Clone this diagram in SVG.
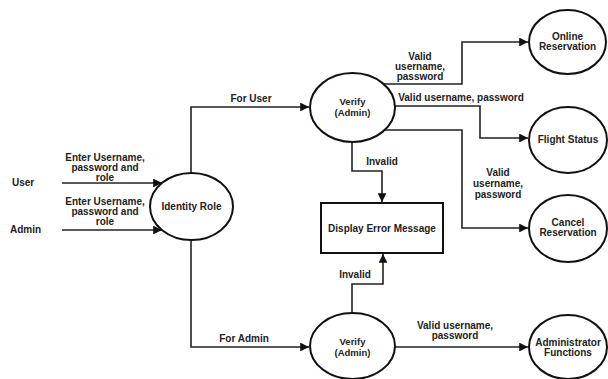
<svg xmlns="http://www.w3.org/2000/svg" width="608" height="379" viewBox="0 0 608 379">
<style>
.node{fill:#fff;stroke:#111;stroke-width:2}
.c{fill:none;stroke:#222;stroke-width:1.6}
text{font-family:"Liberation Sans",Arial,sans-serif;font-size:10px;font-weight:bold;fill:#222;text-anchor:middle}
.s{font-size:9.5px}
.l{text-anchor:start}
</style>
<defs>
<marker id="a" viewBox="0 0 10 10" refX="10" refY="5" markerWidth="5.5" markerHeight="5.5" orient="auto" markerUnits="strokeWidth">
<path d="M0,0 L10,5 L0,10 z" fill="#111"/>
</marker>
</defs>
<rect width="608" height="379" fill="#fff"/>
<g id="connectors">
<path class="c" d="M62,183 H162" marker-end="url(#a)"/>
<path class="c" d="M62,230 H162" marker-end="url(#a)"/>
<path class="c" d="M191,173 V107 H309" marker-end="url(#a)"/>
<path class="c" d="M191,240 V347 H309" marker-end="url(#a)"/>
<path class="c" d="M352,142 V171 H382 V202" marker-end="url(#a)"/>
<path class="c" d="M352,313 V284 H383 V254" marker-end="url(#a)"/>
<path class="c" d="M383,84 H462 V42 H528" marker-end="url(#a)"/>
<path class="c" d="M395,106 H480 V138 H528" marker-end="url(#a)"/>
<path class="c" d="M384,130 H462 V228 H528" marker-end="url(#a)"/>
<path class="c" d="M395,347 H528" marker-end="url(#a)"/>
<text x="105" y="161">Enter Username,</text>
<text x="105" y="171">password and</text>
<text x="105" y="181">role</text>
<text x="105" y="205">Enter Username,</text>
<text x="105" y="215">password and</text>
<text x="105" y="225">role</text>
<text x="251" y="102">For User</text>
<text x="244" y="342">For Admin</text>
<text x="382" y="165">Invalid</text>
<text x="355" y="278">Invalid</text>
<text x="420" y="60">Valid</text>
<text x="420" y="70">username,</text>
<text x="420" y="80">password</text>
<text x="461" y="101">Valid username, password</text>
<text x="498" y="176">Valid</text>
<text x="498" y="187">username,</text>
<text x="498" y="198">password</text>
<text x="455" y="329">Valid username,</text>
<text x="455" y="339">password</text>
</g>
<g id="user"><text class="l" x="12" y="186">User</text></g>
<g id="admin"><text class="l" x="10" y="233">Admin</text></g>
<g id="identity-role">
<ellipse class="node" cx="191.5" cy="206.5" rx="41.5" ry="33.5"/>
<text x="191.5" y="210">Identity Role</text>
</g>
<g id="verify-user">
<ellipse class="node" cx="352.5" cy="107.5" rx="42.5" ry="34.5"/>
<text class="s" x="352.5" y="105">Verify</text>
<text class="s" x="352.5" y="116">(Admin)</text>
</g>
<g id="verify-admin">
<ellipse class="node" cx="352.5" cy="346" rx="42.5" ry="33"/>
<text class="s" x="352.5" y="345">Verify</text>
<text class="s" x="352.5" y="356">(Admin)</text>
</g>
<g id="error">
<rect class="node" x="321" y="203" width="122" height="50"/>
<text x="382" y="232">Display Error Message</text>
</g>
<g id="online">
<ellipse class="node" cx="567.5" cy="42" rx="38.5" ry="32"/>
<text x="567.5" y="40">Online</text>
<text x="567.5" y="50">Reservation</text>
</g>
<g id="flight">
<ellipse class="node" cx="568" cy="140" rx="39" ry="33"/>
<text x="568" y="143">Flight Status</text>
</g>
<g id="cancel">
<ellipse class="node" cx="568" cy="228.5" rx="39" ry="33.5"/>
<text x="568" y="226">Cancel</text>
<text x="568" y="236">Reservation</text>
</g>
<g id="admin-functions">
<ellipse class="node" cx="568" cy="347" rx="39" ry="32"/>
<text x="568" y="346">Administrator</text>
<text x="568" y="356">Functions</text>
</g>
</svg>
